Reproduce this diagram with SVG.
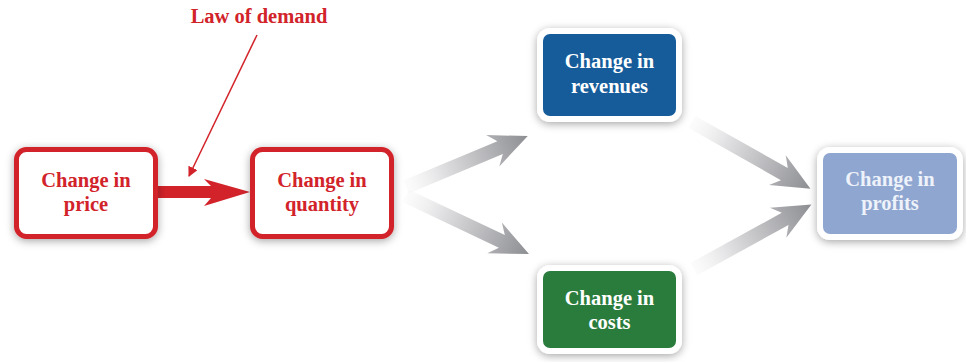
<svg xmlns="http://www.w3.org/2000/svg" width="966" height="362" viewBox="0 0 966 362">
<defs>
<filter id="sh" x="-20%" y="-20%" width="140%" height="140%">
<feDropShadow dx="0" dy="2" stdDeviation="4" flood-color="#000" flood-opacity="0.35"/>
</filter>
<linearGradient id="ga" x1="0" y1="0" x2="1" y2="0">
<stop offset="0" stop-color="#f4f4f5" stop-opacity="0.3"/>
<stop offset="0.3" stop-color="#e0e0e2"/>
<stop offset="1" stop-color="#8d8e92"/>
</linearGradient>
<marker id="th" viewBox="0 0 10 10" refX="9" refY="5" markerWidth="10" markerHeight="10" markerUnits="userSpaceOnUse" orient="auto">
<path d="M0,0 L10,5 L0,10 Z" fill="#d2232a"/>
</marker>
<style>
.t{font-family:"Liberation Serif","Times New Roman",serif;font-weight:bold;font-size:20.5px;text-anchor:middle}
.red{fill:#d2232a}
.wh{fill:#ffffff}
.rb{fill:#ffffff;stroke:#d2232a;stroke-width:5}
.cb{stroke:#ffffff;stroke-width:6}
.ga{fill:url(#ga)}
</style>
</defs>
<g id="connectors">
<polygon class="ga" points="0,-7 102,-7 94,-17 132,0 94,17 102,7 0,7" transform="translate(406,187) rotate(-22.7)"/>
<polygon class="ga" points="0,-7 106,-7 98,-17 136,0 98,17 106,7 0,7" transform="translate(406,196) rotate(25.3)"/>
<polygon class="ga" points="0,-7 106,-7 98,-17 136,0 98,17 106,7 0,7" transform="translate(692,122) rotate(29.4)"/>
<polygon class="ga" points="0,-7 104,-7 96,-17 134,0 96,17 104,7 0,7" transform="translate(694,269) rotate(-28.8)"/>
<polygon id="law-arrow" class="red" points="157,186 211,186 204,179 250,192 204,206 211,198 157,198"/>
<line x1="257" y1="35" x2="189" y2="176" stroke="#d2232a" stroke-width="1.5" marker-end="url(#th)"/>
</g>
<g id="law-label">
<text class="t red" x="259" y="23">Law of demand</text>
</g>
<g id="price">
<rect class="rb" x="16.5" y="149.5" width="139" height="87" rx="10" filter="url(#sh)"/>
<text class="t red" x="86" y="187">Change in</text>
<text class="t red" x="86" y="211">price</text>
</g>
<g id="quantity">
<rect class="rb" x="252.5" y="149.5" width="139" height="87" rx="10" filter="url(#sh)"/>
<text class="t red" x="322" y="187">Change in</text>
<text class="t red" x="322" y="211">quantity</text>
</g>
<g id="revenues">
<rect class="cb" x="540" y="31" width="139" height="88" rx="10" fill="#135c9a" filter="url(#sh)"/>
<text class="t wh" x="609.5" y="68">Change in</text>
<text class="t wh" x="609.5" y="93">revenues</text>
</g>
<g id="costs">
<rect class="cb" x="540" y="268" width="139" height="83" rx="10" fill="#2b7c3e" filter="url(#sh)"/>
<text class="t wh" x="609.5" y="305">Change in</text>
<text class="t wh" x="609.5" y="329">costs</text>
</g>
<g id="profits">
<rect class="cb" x="820" y="150" width="140" height="87" rx="10" fill="#8fa6d0" filter="url(#sh)"/>
<text class="t" x="890" y="186" fill="#eef2fa">Change in</text>
<text class="t" x="890" y="210" fill="#eef2fa">profits</text>
</g>
</svg>
